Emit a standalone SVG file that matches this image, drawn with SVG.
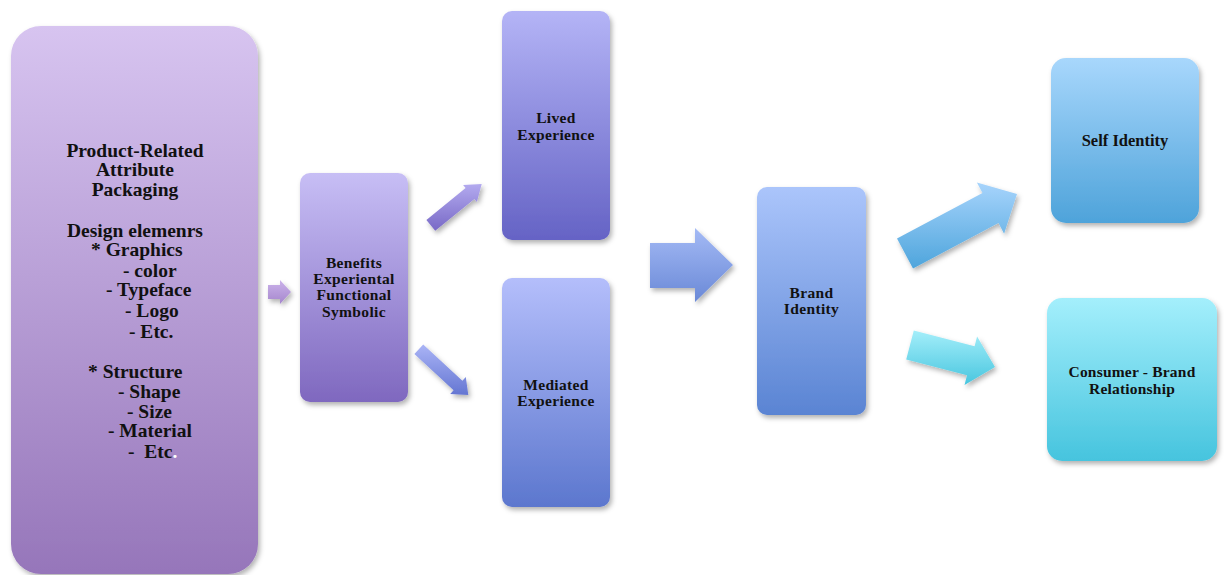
<svg xmlns="http://www.w3.org/2000/svg" width="1224" height="575" viewBox="0 0 1224 575">
<defs>
<linearGradient id="gLeft" x1="0" y1="0" x2="0" y2="1"><stop offset="0" stop-color="#d7c4f0"/><stop offset="1" stop-color="#9676ba"/></linearGradient>
<linearGradient id="gBen" x1="0" y1="0" x2="0" y2="1"><stop offset="0" stop-color="#c7bef5"/><stop offset="1" stop-color="#7f68bf"/></linearGradient>
<linearGradient id="gLived" x1="0" y1="0" x2="0" y2="1"><stop offset="0" stop-color="#b4b4f6"/><stop offset="1" stop-color="#6563c5"/></linearGradient>
<linearGradient id="gMed" x1="0" y1="0" x2="0" y2="1"><stop offset="0" stop-color="#b4befb"/><stop offset="1" stop-color="#5c77ce"/></linearGradient>
<linearGradient id="gBrand" x1="0" y1="0" x2="0" y2="1"><stop offset="0" stop-color="#abc5fb"/><stop offset="1" stop-color="#5a84d3"/></linearGradient>
<linearGradient id="gSelf" x1="0" y1="0" x2="0" y2="1"><stop offset="0" stop-color="#a8d7fc"/><stop offset="1" stop-color="#4ea3da"/></linearGradient>
<linearGradient id="gCons" x1="0" y1="0" x2="0" y2="1"><stop offset="0" stop-color="#a4effc"/><stop offset="1" stop-color="#46c4de"/></linearGradient>
<linearGradient id="aSmall" x1="0" y1="0" x2="0" y2="1"><stop offset="0" stop-color="#cbb3ea"/><stop offset="1" stop-color="#a586cd"/></linearGradient>
<linearGradient id="aUp" x1="0" y1="0" x2="0" y2="1"><stop offset="0" stop-color="#b3aaef"/><stop offset="1" stop-color="#7869c6"/></linearGradient>
<linearGradient id="aDown" x1="0" y1="0" x2="0" y2="1"><stop offset="0" stop-color="#aab4f6"/><stop offset="1" stop-color="#6476d2"/></linearGradient>
<linearGradient id="aBig" x1="0" y1="0" x2="0" y2="1"><stop offset="0" stop-color="#a4baf5"/><stop offset="1" stop-color="#6a89d7"/></linearGradient>
<linearGradient id="aSelf" x1="0" y1="0" x2="0" y2="1"><stop offset="0" stop-color="#a7d4fc"/><stop offset="1" stop-color="#4ea5dc"/></linearGradient>
<linearGradient id="aCons" x1="0" y1="0" x2="0" y2="1"><stop offset="0" stop-color="#a4eefa"/><stop offset="1" stop-color="#48c6df"/></linearGradient>
<filter id="sh" x="-10%" y="-10%" width="125%" height="125%"><feDropShadow dx="2" dy="3" stdDeviation="2.5" flood-color="#000" flood-opacity="0.3"/></filter>
</defs>
<style>
text{font-family:"Liberation Serif","Times New Roman",serif;font-weight:bold;fill:#111;}
.big{font-size:19.5px;}
.lbl{font-size:15.5px;letter-spacing:0.35px;text-anchor:middle;}
</style>
<g id="connectors" filter="url(#sh)">
<polygon fill="url(#aSmall)" points="268,285 280,285 280,280 291,292 280,304 280,299 268,299"/>
<polygon fill="url(#aUp)" points="426.4,219.9 465.6,188.1 463.1,185 481.7,184 476.9,202 474.4,198.9 435.2,230.7"/>
<polygon fill="url(#aDown)" points="423.2,344.4 462.4,380.7 465.8,377.1 468.3,395 450.2,393.9 453.6,390.3 414.4,354"/>
<polygon fill="url(#aBig)" points="650,243 695,243 695,228 733,265 695,302 695,288 650,288"/>
<polygon fill="url(#aSelf)" points="897,238.5 982.5,193.1 976.9,182.5 1017,194 1004.1,233.7 998.5,223.1 913,268.5"/>
<polygon fill="url(#aCons)" points="913.8,330.5 974.6,346.2 977.1,336.5 995,367 964.5,384.9 967,375.2 906.2,359.5"/>
</g>
<g id="node-product">
<rect x="11" y="26" width="247" height="548" rx="30" fill="url(#gLeft)" filter="url(#sh)"/>
<text class="big" x="135" y="156.5" text-anchor="middle">Product-Related</text>
<text class="big" x="135" y="175.5" text-anchor="middle">Attribute</text>
<text class="big" x="135" y="196" text-anchor="middle">Packaging</text>
<text class="big" x="135" y="236.5" text-anchor="middle">Design elemenrs</text>
<text class="big" x="91" y="256">* Graphics</text>
<text class="big" x="123" y="276.5">- color</text>
<text class="big" x="106" y="295.5">- Typeface</text>
<text class="big" x="125" y="316.5">- Logo</text>
<text class="big" x="129" y="338">- Etc.</text>
<text class="big" x="88" y="378">* Structure</text>
<text class="big" x="118" y="397.5">- Shape</text>
<text class="big" x="127" y="418">- Size</text>
<text class="big" x="108" y="437">- Material</text>
<text class="big" x="128" y="458" xml:space="preserve">-  Etc<tspan style="fill:#fff">.</tspan></text>
</g>
<g id="node-benefits">
<rect x="300" y="173" width="108" height="229" rx="10" fill="url(#gBen)" filter="url(#sh)"/>
<text class="lbl" x="354" y="267.5">Benefits</text>
<text class="lbl" x="354" y="283.5">Experiental</text>
<text class="lbl" x="354" y="300">Functional</text>
<text class="lbl" x="354" y="317">Symbolic</text>
</g>
<g id="node-lived">
<rect x="502" y="11" width="108" height="229" rx="10" fill="url(#gLived)" filter="url(#sh)"/>
<text class="lbl" x="556" y="123">Lived</text>
<text class="lbl" x="556" y="139.5">Experience</text>
</g>
<g id="node-mediated">
<rect x="502" y="278" width="108" height="229" rx="10" fill="url(#gMed)" filter="url(#sh)"/>
<text class="lbl" x="556" y="389.5">Mediated</text>
<text class="lbl" x="556" y="406">Experience</text>
</g>
<g id="node-brand">
<rect x="757" y="187" width="109" height="228" rx="10" fill="url(#gBrand)" filter="url(#sh)"/>
<text class="lbl" x="811.5" y="297.5">Brand</text>
<text class="lbl" x="811.5" y="314">Identity</text>
</g>
<g id="node-self">
<rect x="1051" y="58" width="148" height="165" rx="15" fill="url(#gSelf)" filter="url(#sh)"/>
<text class="lbl" x="1125" y="146" style="font-size:16.5px;letter-spacing:0">Self Identity</text>
</g>
<g id="node-consumer">
<rect x="1047" y="298" width="170" height="163" rx="15" fill="url(#gCons)" filter="url(#sh)"/>
<text class="lbl" x="1132" y="377" style="letter-spacing:0.2px">Consumer - Brand</text>
<text class="lbl" x="1132" y="393.5" style="letter-spacing:0.2px">Relationship</text>
</g>
</svg>
